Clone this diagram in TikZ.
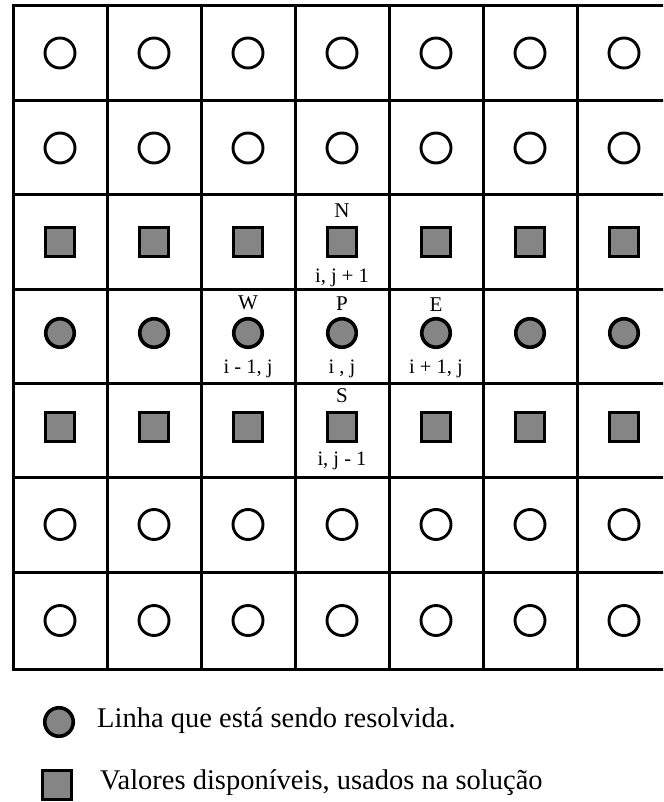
\documentclass[tikz,border=0pt]{standalone}
\usepackage{fontspec}
\setmainfont{Liberation Serif}
\begin{document}
\begin{tikzpicture}[x=1pt,y=-1pt,
  gridline/.style={line width=3pt},
  opencirc/.style={circle, draw, line width=2.9pt, minimum size=30pt, inner sep=0pt},
  solvedcirc/.style={circle, draw, line width=3.6pt, minimum size=28.5pt, inner sep=0pt, fill=black!48},
  usedsq/.style={rectangle, draw, line width=3.6pt, minimum size=29pt, inner sep=0pt, fill=black!48},
  letterlbl/.style={inner sep=0pt, font=\fontsize{21}{25}\selectfont},
  idxlbl/.style={inner sep=0pt, anchor=base, font=\fontsize{20.5}{24}\selectfont},
  legendtxt/.style={inner sep=0pt, anchor=base west, font=\fontsize{28.5}{32}\selectfont}
]
\fill[white] (0,0) rectangle (663,802);
\clip (0,0) rectangle (663,802);
\useasboundingbox (0,0) rectangle (663,802);
% grid
\draw[gridline] (13,6) rectangle (671,669);
\foreach \x in {107,201,295,389,483,577} \draw[gridline] (\x,6) -- (\x,669);
\foreach \y in {100.5,195,289,383,477,572} \draw[gridline] (13,\y) -- (671,\y);
% markers
\foreach \c/\x in {0/60,1/154,2/248,3/342,4/436,5/530,6/624} {
  \node[opencirc] (o0-\c) at (\x,53) {};
  \node[opencirc] (o1-\c) at (\x,148) {};
  \node[usedsq] (s2-\c) at (\x,242) {};
  \node[solvedcirc] (c3-\c) at (\x,333) {};
  \node[usedsq] (s4-\c) at (\x,427) {};
  \node[opencirc] (o5-\c) at (\x,524.5) {};
  \node[opencirc] (o6-\c) at (\x,620.5) {};
}
% labels
\node[letterlbl] (lN) at (342,211) {N};
\node[idxlbl] (iN) at (342,282) {i, j + 1};
\node[letterlbl] (lW) at (248,303) {W};
\node[idxlbl] (iW) at (248,373) {i - 1, j};
\node[letterlbl] (lP) at (342,304) {P};
\node[idxlbl] (iP) at (342,373) {i , j};
\node[letterlbl] (lE) at (436,305) {E};
\node[idxlbl] (iE) at (436,373) {i + 1, j};
\node[letterlbl] (lS) at (342,396) {S};
\node[idxlbl] (iS) at (342,465) {i, j - 1};
% legend
\node[solvedcirc] (legc) at (59,722) {};
\node[legendtxt] (legct) at (97,727) {Linha que está sendo resolvida.};
\node[usedsq] (legs) at (57,785) {};
\node[legendtxt] (legst) at (100,789) {Valores disponíveis, usados na solução};
\end{tikzpicture}
\end{document}
